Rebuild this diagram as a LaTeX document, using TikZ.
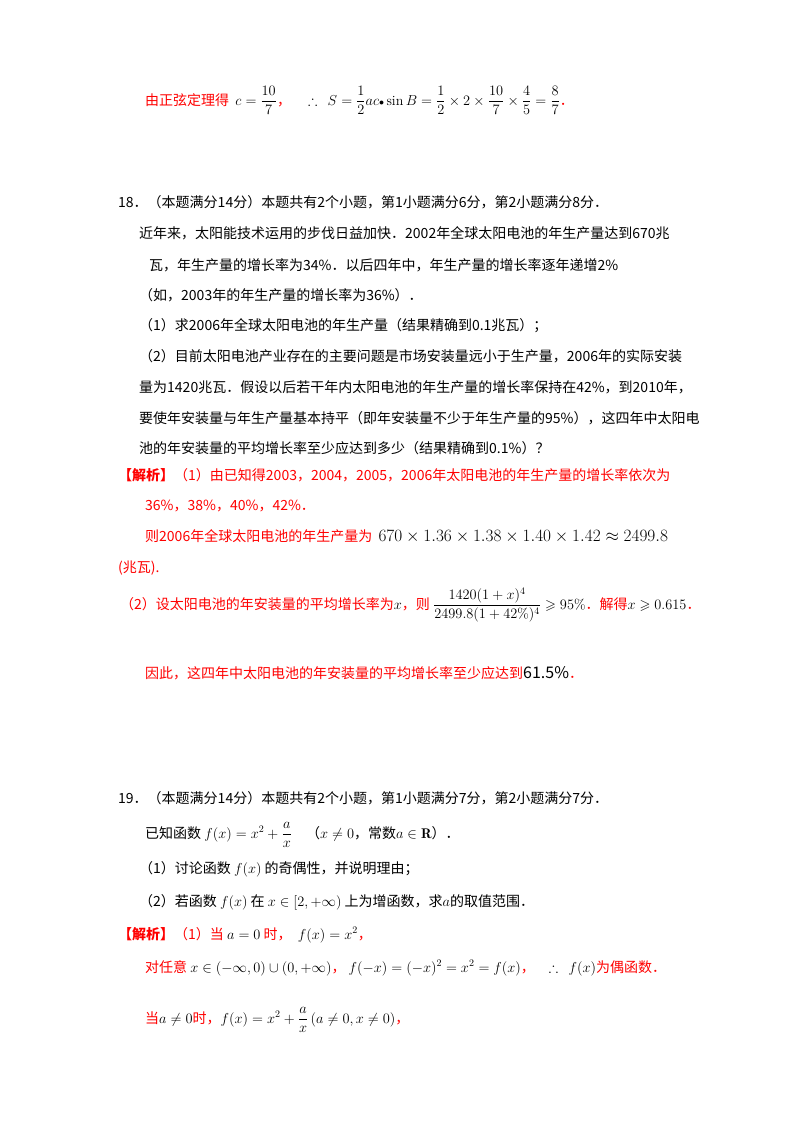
\documentclass[tikz,border=0pt]{standalone}
\usepackage{amsmath,amssymb}
\usepackage{fontspec}
\newfontfamily\cjk{Noto Sans CJK SC}
\begin{document}
\begin{tikzpicture}[x=1pt,y=-1pt,
 t/.style={anchor=base west,inner sep=0pt,font=\fontsize{14}{16}\selectfont\cjk},
 r/.style={t,text=red}]
\useasboundingbox (0,0) rectangle (800,1132);
\node[r] (l1) at (145,105) {由正弦定理得\ \ \textcolor{black}{$c=\dfrac{10}{7}$}，\quad\ \textcolor{black}{$\therefore\ \ S=\dfrac12 ac{\scriptstyle\bullet}\sin B=\dfrac12\times2\times\dfrac{10}{7}\times\dfrac45=\dfrac87$}．};
\node[t] (l2) at (118,207) {18．（本题满分14分）本题共有2个小题，第1小题满分6分，第2小题满分8分．};
\node[t] (l3) at (139,238) {近年来，太阳能技术运用的步伐日益加快．2002年全球太阳电池的年生产量达到670兆};
\node[t] (l4) at (149,270) {瓦，年生产量的增长率为34\%．以后四年中，年生产量的增长率逐年递增2\%};
\node[t] (l5) at (139,300) {（如，2003年的年生产量的增长率为36\%）．};
\node[t] (l6) at (139,330) {（1）求2006年全球太阳电池的年生产量（结果精确到0.1兆瓦）；};
\node[t] (l7) at (139,361) {（2）目前太阳电池产业存在的主要问题是市场安装量远小于生产量，2006年的实际安装};
\node[t] (l8) at (139,392) {量为1420兆瓦．假设以后若干年内太阳电池的年生产量的增长率保持在42\%，到2010年，};
\node[t] (l9) at (139,423) {要使年安装量与年生产量基本持平（即年安装量不少于年生产量的95\%），这四年中太阳电};
\node[t] (l10) at (139,453) {池的年安装量的平均增长率至少应达到多少（结果精确到0.1\%）？};
\node[r] (l11) at (118,480) {\textbf{【解析】}（1）由已知得2003，2004，2005，2006年太阳电池的年生产量的增长率依次为};
\node[r] (l12) at (145,510) {36\%，38\%，40\%，42\%．};
\node[r] (l13) at (145,541) {则2006年全球太阳电池的年生产量为\ \ \textcolor{black}{\fontsize{17}{18}\selectfont$670\times1.36\times1.38\times1.40\times1.42\approx2499.8$}};
\node[r] (l14) at (118,572) {(兆瓦).};
\node[r] (l15) at (120,609) {（2）设太阳电池的年安装量的平均增长率为\textcolor{black}{$x$}，则 \textcolor{black}{$\dfrac{1420(1+x)^4}{2499.8(1+42\%)^4}\geqslant95\%$}．解得\textcolor{black}{$x\geqslant0.615$}．};
\node[r] (l16) at (145,678) {因此，这四年中太阳电池的年安装量的平均增长率至少应达到\textcolor{black}{\fontsize{16}{18}\selectfont 61.5\%}．};
\node[t] (l17) at (118,803) {19．（本题满分14分）本题共有2个小题，第1小题满分7分，第2小题满分7分．};
\node[t] (l18) at (145,838) {已知函数 $f(x)=x^2+\dfrac{a}{x}$\quad（$x\neq0$，常数$a\in\mathbf{R}$）．};
\node[t] (l19) at (139,873) {（1）讨论函数 $f(x)$ 的奇偶性，并说明理由；};
\node[t] (l20) at (139,906) {（2）若函数 $f(x)$ 在 $x\in[2,+\infty)$ 上为增函数，求$a$的取值范围．};
\node[r] (l21) at (118,939) {\textbf{【解析】}（1）当 \textcolor{black}{$a=0$} 时，\ \ \textcolor{black}{$f(x)=x^2$}，};
\node[r] (l22) at (145,972) {对任意 \textcolor{black}{$x\in(-\infty,0)\cup(0,+\infty)$}，\ \textcolor{black}{$f(-x)=(-x)^2=x^2=f(x)$}，\quad \textcolor{black}{$\therefore\ \ f(x)$}为偶函数．};
\node[r] (l23) at (145,1023) {当\textcolor{black}{$a\neq0$}时，\textcolor{black}{$f(x)=x^2+\dfrac{a}{x}\,(a\neq0,x\neq0)$}，};
\end{tikzpicture}
\end{document}
